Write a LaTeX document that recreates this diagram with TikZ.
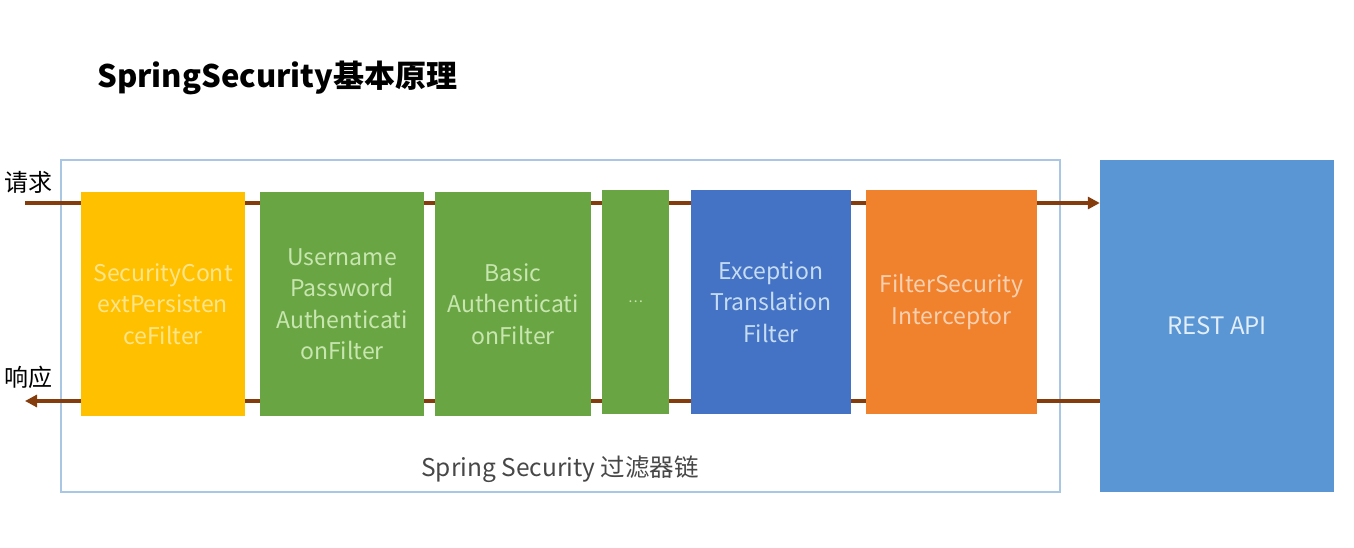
\documentclass[tikz,border=0pt]{standalone}
\usepackage{fontspec}
\setmainfont{Noto Sans CJK SC}
\usetikzlibrary{arrows.meta}
\definecolor{flow}{HTML}{843C0C}
\definecolor{frameC}{HTML}{A9C7E2}
\definecolor{yelF}{HTML}{FFC000}\definecolor{yelT}{HTML}{FFE48A}
\definecolor{grnF}{HTML}{6AA543}\definecolor{grnT}{HTML}{C8E6B0}
\definecolor{bluF}{HTML}{4472C4}\definecolor{bluT}{HTML}{C5DCF3}
\definecolor{oraF}{HTML}{F0822E}\definecolor{oraT}{HTML}{FAD0B0}
\definecolor{resF}{HTML}{5B96D4}\definecolor{resT}{HTML}{E2EEFA}
\begin{document}
\begin{tikzpicture}[x=1pt,y=-1pt,
  filterbox/.style={draw=none,inner sep=0pt,align=center,font=\fontsize{23}{31.5}\selectfont},
  flowline/.style={draw=flow,line width=4pt},
  flowarrow/.style={flowline,-{Triangle[length=12pt,width=12pt]}}]
\useasboundingbox (0,0) rectangle (1354,548);
\fill[white] (0,0) rectangle (1354,548);
\node[anchor=west,inner sep=0pt,font=\fontsize{31}{36}\selectfont\bfseries] (title) at (97,78) {SpringSecurity基本原理};
\node[draw=frameC,line width=1.2pt,minimum width=999pt,minimum height=332pt,inner sep=0pt] (frame) at (560.5,326) {};
\node[inner sep=0pt,font=\fontsize{24.5}{28}\selectfont,text=black!72] (chain) at (560,469) {Spring Security 过滤器链};
\node[inner sep=0pt,font=\fontsize{24}{28}\selectfont] (req) at (29,182) {请求};
\node[inner sep=0pt,font=\fontsize{24}{28}\selectfont] (resp) at (29,377) {响应};
\coordinate (in) at (25,203);
\coordinate (out) at (25,401);
\node[filterbox,fill=yelF,text=yelT,minimum width=164pt,minimum height=224pt] (f1) at (163,304) {SecurityCont\\extPersisten\\ceFilter};
\node[filterbox,fill=grnF,text=grnT,minimum width=164pt,minimum height=224pt] (f2) at (342,304) {Username\\Password\\Authenticati\\onFilter};
\node[filterbox,fill=grnF,text=grnT,minimum width=156pt,minimum height=224pt] (f3) at (513,304) {Basic\\Authenticati\\onFilter};
\node[filterbox,fill=grnF,text=grnT,minimum width=67pt,minimum height=224pt] (f4) at (635.5,302) {\fontsize{14}{16}\selectfont …};
\node[filterbox,fill=bluF,text=bluT,minimum width=160pt,minimum height=224pt] (f5) at (771,302) {Exception\\Translation\\Filter};
\node[filterbox,fill=oraF,text=oraT,minimum width=171pt,minimum height=224pt] (f6) at (951.5,302) {\raisebox{-4pt}{\parbox{171pt}{\centering FilterSecurity\\Interceptor}}};
\node[filterbox,fill=resF,text=resT,font=\fontsize{24}{28}\selectfont,minimum width=234pt,minimum height=332pt] (rest) at (1217,326) {REST API};
% request flow
\draw[flowline] (in) -- (f1.west |- in);
\draw[flowline] (f1.east |- in) -- (f2.west |- in);
\draw[flowline] (f2.east |- in) -- (f3.west |- in);
\draw[flowline] (f3.east |- in) -- (f4.west |- in);
\draw[flowline] (f4.east |- in) -- (f5.west |- in);
\draw[flowline] (f5.east |- in) -- (f6.west |- in);
\draw[flowarrow] (f6.east |- in) -- (rest.west |- in);
% response flow
\draw[flowline] (rest.west |- out) -- (f6.east |- out);
\draw[flowline] (f6.west |- out) -- (f5.east |- out);
\draw[flowline] (f5.west |- out) -- (f4.east |- out);
\draw[flowline] (f4.west |- out) -- (f3.east |- out);
\draw[flowline] (f3.west |- out) -- (f2.east |- out);
\draw[flowline] (f2.west |- out) -- (f1.east |- out);
\draw[flowarrow] (f1.west |- out) -- (out);
\end{tikzpicture}
\end{document}
